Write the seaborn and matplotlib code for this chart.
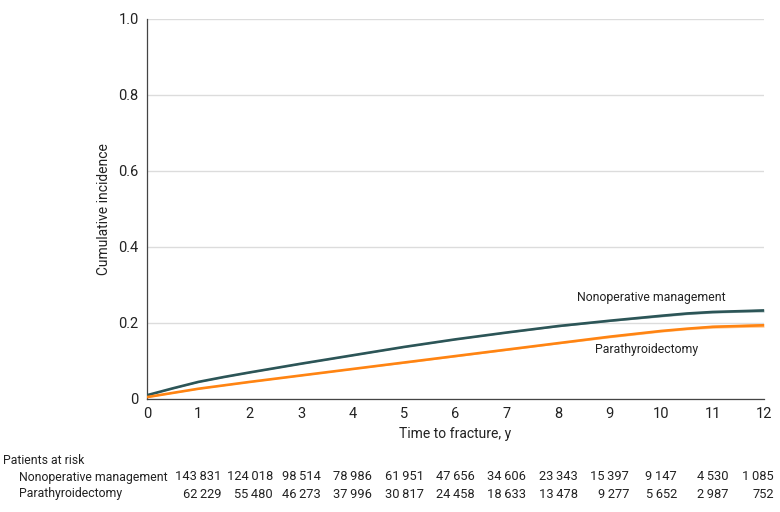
import numpy as np
import pandas as pd
import seaborn as sns
import matplotlib.pyplot as plt

# Cumulative incidence curves
years_nonop = [0, 0.5, 1, 1.5, 2, 3, 4, 5, 6, 7, 8, 9, 10, 10.5, 11, 11.5, 12]
inc_nonop = [0.010, 0.028, 0.045, 0.058, 0.070, 0.093, 0.115, 0.137, 0.157,
             0.175, 0.192, 0.206, 0.219, 0.225, 0.229, 0.231, 0.233]
lo_nonop = [0.009, 0.027, 0.044, 0.057, 0.069, 0.092, 0.114, 0.136, 0.156,
            0.174, 0.190, 0.204, 0.216, 0.222, 0.226, 0.228, 0.229]
hi_nonop = [0.011, 0.029, 0.046, 0.059, 0.071, 0.094, 0.116, 0.138, 0.158,
            0.176, 0.194, 0.208, 0.222, 0.228, 0.232, 0.234, 0.237]

years_para = [0, 1, 2, 3, 4, 5, 6, 7, 8, 9, 10, 10.5, 11, 11.5, 12]
inc_para = [0.005, 0.027, 0.045, 0.062, 0.079, 0.096, 0.113, 0.130, 0.147,
            0.164, 0.179, 0.185, 0.190, 0.192, 0.194]
lo_para = [0.004, 0.026, 0.044, 0.061, 0.078, 0.094, 0.111, 0.128, 0.145,
           0.161, 0.176, 0.182, 0.186, 0.188, 0.189]
hi_para = [0.006, 0.028, 0.046, 0.063, 0.080, 0.098, 0.115, 0.132, 0.149,
           0.167, 0.182, 0.188, 0.194, 0.196, 0.199]

groups = ["Nonoperative management", "Parathyroidectomy"]
risk_nonop = [143831, 124018, 98514, 78986, 61951, 47656, 34606, 23343, 15397, 9147, 4530, 1085]
risk_para = [62229, 55480, 46273, 37996, 30817, 24458, 18633, 13478, 9277, 5652, 2987, 752]
x_ticks = list(range(0, 13))
y_ticks = [0, 0.2, 0.4, 0.6, 0.8, 1.0]

colors = {"Nonoperative management": "#2c5557", "Parathyroidectomy": "#ff8412"}
band_colors = {"Nonoperative management": "#9fb3b3", "Parathyroidectomy": "#ffc993"}

df = pd.concat([
    pd.DataFrame({"year": years_nonop, "inc": inc_nonop, "group": groups[0]}),
    pd.DataFrame({"year": years_para, "inc": inc_para, "group": groups[1]}),
])

sns.set_theme(style="white")
plt.rcParams["font.family"] = ["Roboto", "DejaVu Sans"]
plt.rcParams["font.size"] = 10
txt = "#222222"
small = 8.8

fig = plt.figure(figsize=(7.8, 5.12), dpi=100)
ax = fig.add_axes([147 / 780, 1 - 399 / 512, 617 / 780, 380 / 512])

# confidence bands, then the curves
ax.fill_between(years_nonop, lo_nonop, hi_nonop, color=band_colors[groups[0]], lw=0, zorder=2)
ax.fill_between(years_para, lo_para, hi_para, color=band_colors[groups[1]], lw=0, zorder=2)
sns.lineplot(data=df, x="year", y="inc", hue="group", palette=colors,
             linewidth=1.9, legend=False, ax=ax, zorder=3)

ax.set_xlim(0, 12)
ax.set_ylim(0, 1.0)
ax.set_xticks(x_ticks)
ax.set_yticks(y_ticks)
ax.set_yticklabels(["0" if v == 0 else f"{v:.1f}" for v in y_ticks])
ax.yaxis.grid(True, color="#dcdcdc", lw=1, zorder=0)
ax.set_axisbelow(True)
for s in ["top", "right"]:
    ax.spines[s].set_visible(False)
for s in ["left", "bottom"]:
    ax.spines[s].set_color("#444444")
    ax.spines[s].set_linewidth(0.9)
ax.tick_params(axis="both", direction="out", length=4, width=0.9, color="#444444",
               labelsize=10.5, labelcolor=txt, pad=2)
ax.set_xlabel("Time to fracture, y", fontsize=10, color=txt, labelpad=4)
ax.set_ylabel("Cumulative incidence", fontsize=10, color=txt, labelpad=5)

# curve labels
ax.text(8.36, 0.268, groups[0], fontsize=small, color=txt, va="center", ha="left")
ax.text(8.71, 0.129, groups[1], fontsize=small, color=txt, va="center", ha="left")

# Patients at risk table
fig.text(3 / 780, 1 - 460 / 512, "Patients at risk", fontsize=small, color=txt, va="center")
y1 = 1 - 477 / 512
y2 = 1 - 494 / 512
fig.text(19 / 780, y1, groups[0], fontsize=small, color=txt, va="center")
fig.text(19 / 780, y2, groups[1], fontsize=small, color=txt, va="center")

fig.canvas.draw()
renderer = fig.canvas.get_renderer()
trans = ax.transData
for i, (a, b) in enumerate(zip(risk_nonop, risk_para)):
    xpix, _ = trans.transform((i + 1, 0))
    xpix = min(xpix, 758)
    t = fig.text(xpix / 780, y1, f"{a:,}".replace(",", "\u2009"), fontsize=9.3,
                 color=txt, va="center", ha="center")
    bb = t.get_window_extent(renderer)
    fig.text(bb.x1 / 780, y2, f"{b:,}".replace(",", "\u2009"), fontsize=9.3,
             color=txt, va="center", ha="right")

fig.savefig("out.png", dpi=100)
